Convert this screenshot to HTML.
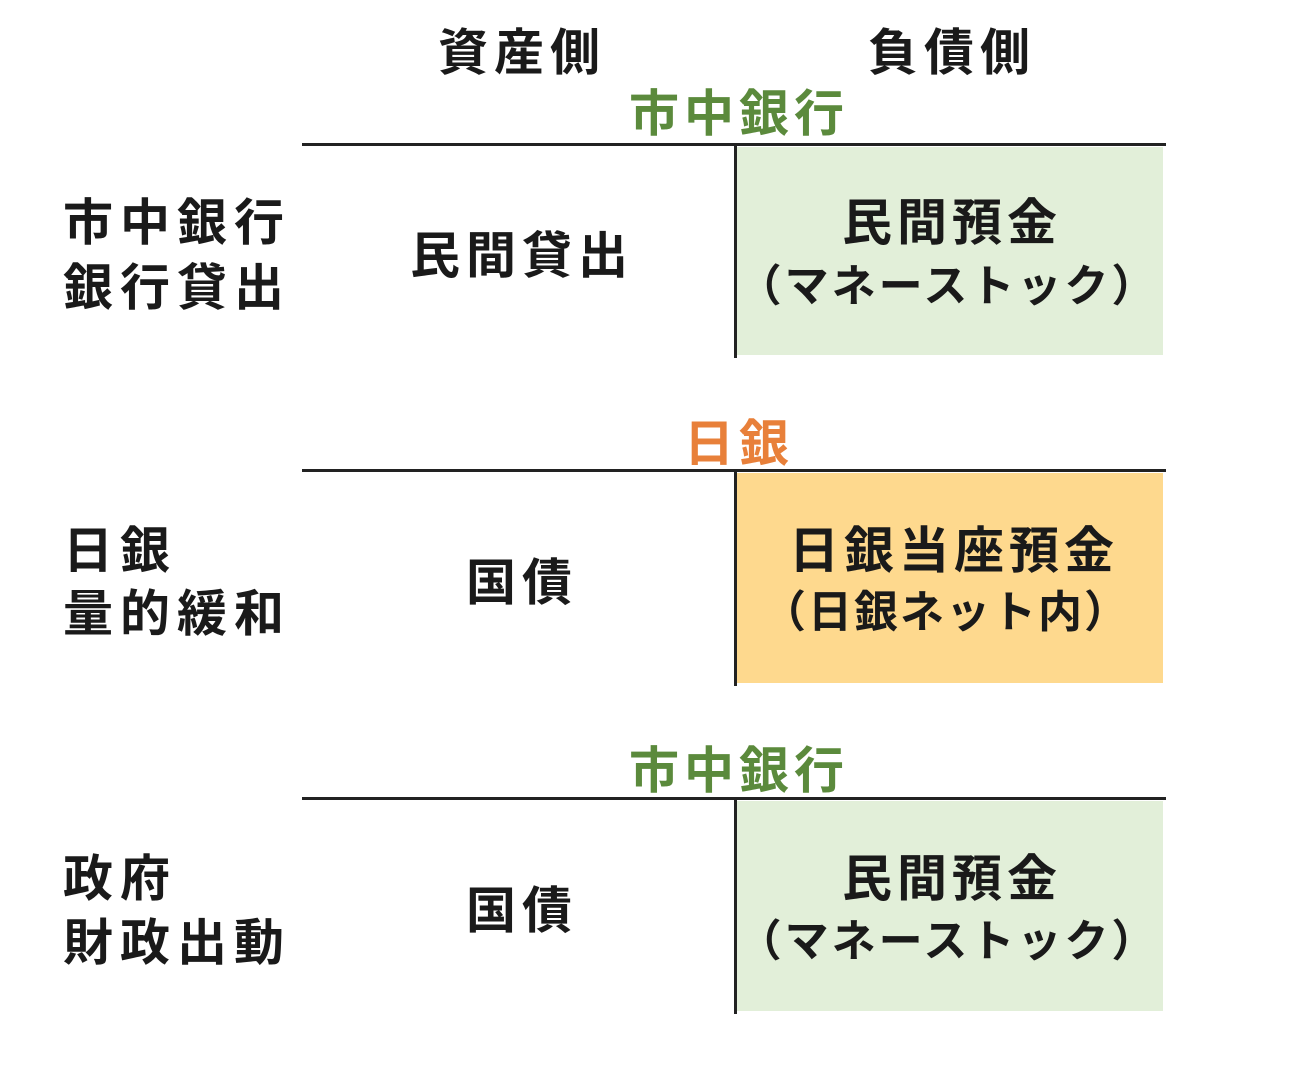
<!DOCTYPE html>
<html><head><meta charset="utf-8"><style>
html,body{margin:0;padding:0;background:#fff;}
body{width:1299px;height:1068px;position:relative;overflow:hidden;font-family:"Liberation Sans","Noto Sans CJK JP",sans-serif;font-weight:bold;color:#1a1a1a;}
.t{position:absolute;white-space:nowrap;line-height:1;}
.c{transform:translateX(-50%);}
.hl{position:absolute;height:3px;background:#222;left:302px;width:864px;}
.vl{position:absolute;width:3px;background:#222;left:734px;}
.box{position:absolute;left:737px;width:426px;}
.g{color:#5b8a3c}
.o{color:#e8803a}
</style></head><body>
<div class="t c" style="left:522px;top:28px;font-size:50px;letter-spacing:6px">資産側</div>
<div class="t c" style="left:952px;top:28px;font-size:50px;letter-spacing:6px">負債側</div>

<!-- section 1 -->
<div class="t c g" style="left:739px;top:89px;font-size:50px;letter-spacing:5px">市中銀行</div>
<div class="box" style="top:147px;height:208px;background:#e2efd9"></div>
<div class="hl" style="top:143px"></div>
<div class="vl" style="top:143px;height:215px"></div>
<div class="t" style="left:63px;top:198px;font-size:50px;letter-spacing:7px">市中銀行</div>
<div class="t" style="left:63px;top:263px;font-size:50px;letter-spacing:7px">銀行貸出</div>
<div class="t c" style="left:522px;top:231px;font-size:50px;letter-spacing:6px">民間貸出</div>
<div class="t c" style="left:952px;top:198px;font-size:50px;letter-spacing:5px">民間預金</div>
<div class="t c" style="left:948px;top:265px;font-size:44px;letter-spacing:3px">（マネーストック）</div>

<!-- section 2 -->
<div class="t c o" style="left:739px;top:419px;font-size:50px;letter-spacing:5px">日銀</div>
<div class="box" style="top:473px;height:210px;background:#fed98e"></div>
<div class="hl" style="top:469px"></div>
<div class="vl" style="top:469px;height:217px"></div>
<div class="t" style="left:63px;top:526px;font-size:50px;letter-spacing:7px">日銀</div>
<div class="t" style="left:63px;top:589px;font-size:50px;letter-spacing:7px">量的緩和</div>
<div class="t c" style="left:522px;top:558px;font-size:50px;letter-spacing:6px">国債</div>
<div class="t c" style="left:954px;top:526px;font-size:50px;letter-spacing:5px">日銀当座預金</div>
<div class="t c" style="left:946px;top:591px;font-size:44px;letter-spacing:2px">（日銀ネット内）</div>

<!-- section 3 -->
<div class="t c g" style="left:739px;top:746px;font-size:50px;letter-spacing:5px">市中銀行</div>
<div class="box" style="top:801px;height:210px;background:#e2efd9"></div>
<div class="hl" style="top:797px"></div>
<div class="vl" style="top:797px;height:217px"></div>
<div class="t" style="left:63px;top:854px;font-size:50px;letter-spacing:7px">政府</div>
<div class="t" style="left:63px;top:918px;font-size:50px;letter-spacing:7px">財政出動</div>
<div class="t c" style="left:522px;top:886px;font-size:50px;letter-spacing:6px">国債</div>
<div class="t c" style="left:952px;top:854px;font-size:50px;letter-spacing:5px">民間預金</div>
<div class="t c" style="left:948px;top:920px;font-size:44px;letter-spacing:3px">（マネーストック）</div>
</body></html>
